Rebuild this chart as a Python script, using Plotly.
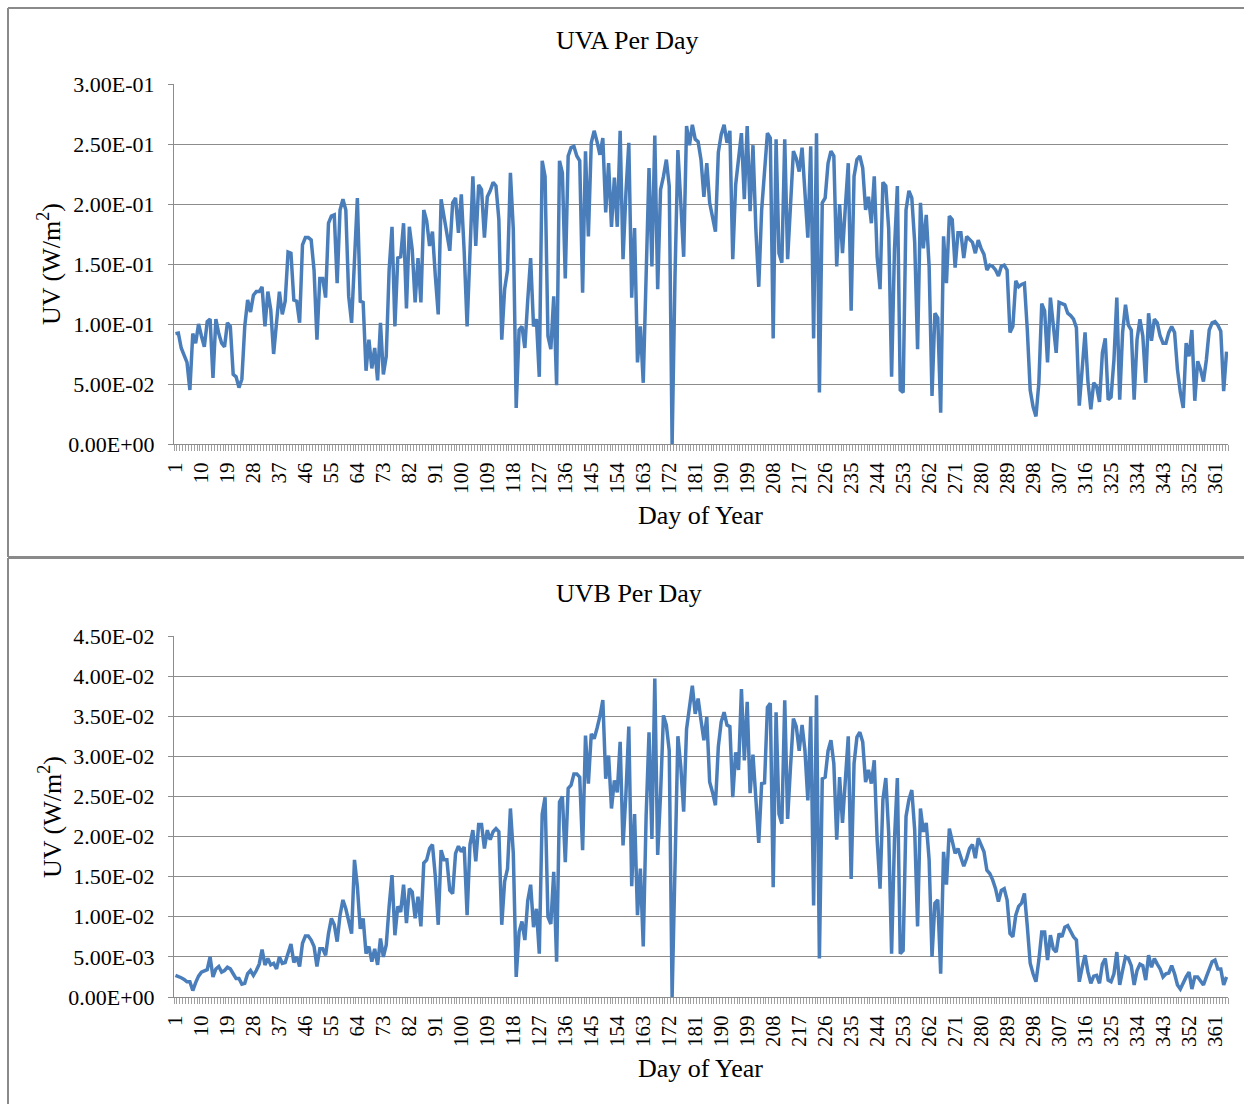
import plotly.graph_objects as go

W, H = 1244, 1104

uva_values = [
    0.092, 0.0925, 0.08, 0.073, 0.068, 0.045, 0.092, 0.084, 0.1, 0.09,
    0.081, 0.102, 0.104, 0.055, 0.104, 0.092, 0.084, 0.081, 0.101, 0.098,
    0.058, 0.056, 0.047, 0.054, 0.098, 0.12, 0.11, 0.124, 0.127, 0.127,
    0.131, 0.098, 0.127, 0.112, 0.075, 0.101, 0.127, 0.108, 0.119, 0.16,
    0.159, 0.12, 0.119, 0.101, 0.166, 0.172, 0.172, 0.17, 0.145, 0.087,
    0.138, 0.138, 0.122, 0.184, 0.19, 0.191, 0.134, 0.195, 0.204, 0.195,
    0.123, 0.101, 0.15, 0.205,
    0.119, 0.118, 0.061, 0.087, 0.063, 0.08, 0.053, 0.101, 0.058, 0.073,
    0.145, 0.181, 0.098, 0.155, 0.156, 0.184, 0.113, 0.181, 0.162, 0.118,
    0.155, 0.118, 0.195, 0.186, 0.165, 0.177, 0.14, 0.108, 0.204, 0.19,
    0.177, 0.161, 0.201, 0.205, 0.176, 0.208, 0.16,
    0.098, 0.16, 0.223, 0.165, 0.216, 0.212, 0.172, 0.206, 0.211, 0.218,
    0.215, 0.187, 0.087, 0.129, 0.145, 0.226, 0.179, 0.03, 0.095, 0.098,
    0.08, 0.12, 0.155, 0.098, 0.104, 0.056, 0.236, 0.223, 0.09, 0.079,
    0.123, 0.049, 0.236, 0.226, 0.138, 0.24, 0.247, 0.248, 0.24, 0.236,
    0.126, 0.244, 0.173, 0.251, 0.261, 0.252, 0.241, 0.255, 0.193, 0.234,
    0.181, 0.222, 0.181, 0.261, 0.154, 0.209, 0.251, 0.122, 0.18, 0.068,
    0.098, 0.051, 0.145, 0.23, 0.148, 0.257, 0.129, 0.212, 0.223, 0.237,
    0.215, 0.0, 0.14, 0.245, 0.201, 0.156, 0.265, 0.249, 0.266, 0.254,
    0.252, 0.237,
    0.206, 0.234, 0.201, 0.19, 0.177, 0.243, 0.258, 0.266, 0.251, 0.261,
    0.154, 0.216, 0.237, 0.259, 0.204, 0.265, 0.194, 0.249, 0.179, 0.131,
    0.195, 0.23, 0.259, 0.255, 0.088, 0.254, 0.159, 0.151, 0.254, 0.154,
    0.195, 0.244, 0.238, 0.227, 0.247, 0.209, 0.172, 0.248, 0.088, 0.259,
    0.043, 0.201, 0.205, 0.234, 0.244, 0.24, 0.148, 0.2, 0.159, 0.198,
    0.234, 0.111, 0.223, 0.237, 0.24, 0.23, 0.195, 0.206, 0.184, 0.223,
    0.156, 0.129, 0.218, 0.215, 0.179, 0.056, 0.162, 0.215, 0.045, 0.043,
    0.195, 0.211, 0.205, 0.168, 0.079, 0.201, 0.163, 0.191, 0.148, 0.04,
    0.109, 0.105, 0.026, 0.173, 0.134, 0.19, 0.187, 0.147, 0.176, 0.176,
    0.155, 0.173, 0.17, 0.168, 0.159, 0.17, 0.163, 0.158, 0.145, 0.149,
    0.148, 0.145, 0.14, 0.148, 0.149, 0.145, 0.093, 0.098, 0.136, 0.131,
    0.133, 0.134, 0.095, 0.045, 0.031, 0.023, 0.051, 0.117, 0.111, 0.068,
    0.122,
    0.098, 0.076, 0.118, 0.117, 0.116, 0.109, 0.107, 0.104, 0.097, 0.032,
    0.062, 0.093, 0.052, 0.029, 0.051, 0.048, 0.035, 0.076, 0.088, 0.037,
    0.039, 0.07, 0.122, 0.037, 0.093, 0.116, 0.099, 0.095, 0.037, 0.087,
    0.104, 0.09, 0.051, 0.109, 0.086, 0.104, 0.101, 0.09, 0.084, 0.084,
    0.093, 0.098, 0.093, 0.062, 0.043, 0.03, 0.084, 0.073, 0.095, 0.036,
    0.069, 0.062, 0.052, 0.07, 0.095, 0.101, 0.102, 0.099, 0.094, 0.044,
    0.077,
]

uvb_values = [
    0.0027, 0.0026, 0.0024, 0.0022, 0.0019, 0.0019, 0.0008, 0.0018, 0.0026, 0.0031,
    0.0033, 0.0034, 0.005, 0.0025, 0.0035, 0.0038, 0.0031, 0.0033, 0.0037, 0.0035,
    0.0029, 0.0023, 0.0023, 0.0016, 0.0017, 0.0029, 0.0033, 0.0027, 0.0033, 0.0041,
    0.0059, 0.004, 0.0048, 0.004, 0.0042, 0.0035, 0.005, 0.0042, 0.0043, 0.0055,
    0.0066, 0.0043, 0.005, 0.0038, 0.0067, 0.0076, 0.0076, 0.0071, 0.0063, 0.0038,
    0.006, 0.006, 0.0052, 0.0079, 0.0098, 0.009, 0.0069, 0.0102, 0.0121, 0.011,
    0.0095, 0.0079,
    0.0171, 0.0138, 0.0085, 0.0098, 0.0054, 0.0063, 0.0044, 0.006, 0.004, 0.0073,
    0.005, 0.0065, 0.0113, 0.0152, 0.0077, 0.0113, 0.0106, 0.014, 0.0092, 0.0135,
    0.0131, 0.0098, 0.0125, 0.0088, 0.0167, 0.0171, 0.0185, 0.019, 0.015, 0.009,
    0.0183, 0.0171, 0.0171, 0.0133, 0.0129, 0.0179, 0.0188, 0.0181, 0.0187, 0.0102,
    0.019, 0.0208, 0.0169, 0.0215, 0.0215, 0.0185, 0.0208, 0.0196, 0.0206, 0.021,
    0.0206, 0.009, 0.0144, 0.016, 0.0235, 0.0179, 0.0025, 0.0081, 0.0094, 0.0071,
    0.012, 0.014, 0.0087, 0.011, 0.0054, 0.0228, 0.0249, 0.01, 0.0091, 0.0156,
    0.0044, 0.0243, 0.025, 0.0168, 0.026, 0.0264, 0.0278, 0.0278, 0.0274, 0.0183,
    0.0326, 0.0266, 0.0328, 0.0322, 0.0335, 0.035, 0.037, 0.0272, 0.0301, 0.0235,
    0.027, 0.0255, 0.0318, 0.0189, 0.0253, 0.0337, 0.0138, 0.0228, 0.0102, 0.016,
    0.0063, 0.0226, 0.033, 0.0197, 0.0397, 0.0177, 0.0253, 0.0351, 0.0339, 0.0307,
    0.0, 0.0179, 0.0325, 0.0287, 0.0231, 0.0334, 0.0361, 0.0388, 0.0353, 0.0372,
    0.0345,
    0.032, 0.0349, 0.0268, 0.0255, 0.0239, 0.0312, 0.0343, 0.0355, 0.0339, 0.0337,
    0.0249, 0.0305, 0.0283, 0.0384, 0.0295, 0.0368, 0.0254, 0.0302, 0.0245, 0.0192,
    0.0266, 0.0267, 0.0361, 0.0366, 0.0137, 0.0355, 0.0228, 0.0216, 0.037, 0.0222,
    0.0287, 0.0347, 0.0337, 0.0307, 0.0339, 0.0307, 0.0245, 0.035, 0.0114, 0.0376,
    0.0048, 0.0272, 0.0274, 0.0307, 0.032, 0.0291, 0.0196, 0.0274, 0.0217, 0.0266,
    0.0325, 0.0147, 0.0291, 0.0324, 0.033, 0.0318, 0.0268, 0.0283, 0.0266, 0.0295,
    0.0196, 0.0135, 0.0246, 0.0273, 0.0204, 0.0054, 0.0196, 0.0273, 0.0054, 0.0058,
    0.0225, 0.0246, 0.0258, 0.0208, 0.0088, 0.0235, 0.0206, 0.0217, 0.0171, 0.005,
    0.0117, 0.0121, 0.0029, 0.0181, 0.014, 0.021, 0.0196, 0.0179, 0.0185, 0.0175,
    0.0163, 0.0173, 0.0185, 0.019, 0.0173, 0.0198, 0.0188, 0.0181, 0.0158, 0.0154,
    0.0146, 0.0135, 0.0119, 0.0133, 0.0135, 0.0121, 0.0079, 0.0075, 0.0102, 0.0113,
    0.0117, 0.0129, 0.0088, 0.0042, 0.0029, 0.0019, 0.0046, 0.0081, 0.0081, 0.0046,
    0.0077,
    0.006, 0.0056, 0.0079, 0.0075, 0.0087, 0.0089, 0.0081, 0.0075, 0.0071, 0.0019,
    0.0037, 0.0052, 0.0031, 0.0017, 0.0026, 0.0027, 0.0017, 0.0041, 0.0048, 0.0021,
    0.0019, 0.0029, 0.0056, 0.0015, 0.0033, 0.005, 0.0048, 0.0039, 0.0015, 0.0033,
    0.0041, 0.0039, 0.0021, 0.0052, 0.0037, 0.0048, 0.0041, 0.0035, 0.0025, 0.0029,
    0.003, 0.0039, 0.0029, 0.0015, 0.001, 0.0018, 0.0025, 0.0031, 0.001, 0.0025,
    0.0025, 0.002, 0.0015, 0.0025, 0.0035, 0.0044, 0.0046, 0.0035, 0.0035, 0.0015,
    0.0025,
]

uva_days = list(range(1, len(uva_values) + 1))
uvb_days = list(range(1, len(uvb_values) + 1))

x_tick_days = list(range(1, 366, 9))
x_tick_text = [str(d) for d in x_tick_days]

uva_ticks = [0, 0.05, 0.10, 0.15, 0.20, 0.25, 0.30]
uva_tick_text = ["0.00E+00", "5.00E-02", "1.00E-01", "1.50E-01",
                 "2.00E-01", "2.50E-01", "3.00E-01"]
uvb_ticks = [0, 0.005, 0.010, 0.015, 0.020, 0.025, 0.030, 0.035, 0.040, 0.045]
uvb_tick_text = ["0.00E+00", "5.00E-03", "1.00E-02", "1.50E-02", "2.00E-02",
                 "2.50E-02", "3.00E-02", "3.50E-02", "4.00E-02", "4.50E-02"]

titles = ["UVA Per Day", "UVB Per Day"]
x_title = "Day of Year"
y_title = "UV (W/m<sup>2</sup>)"

FONT = "Liberation Serif, Times New Roman, serif"
LINE_COLOR = "#4a7ebb"
GRID = "#8c8c8c"


def px(x):
    return x / W


def py(y):
    return 1 - y / H


fig = go.Figure()
fig.add_trace(go.Scatter(x=uva_days, y=uva_values, mode="lines",
                         line=dict(color=LINE_COLOR, width=3.5),
                         xaxis="x", yaxis="y", showlegend=False))
fig.add_trace(go.Scatter(x=uvb_days, y=uvb_values, mode="lines",
                         line=dict(color=LINE_COLOR, width=3.5),
                         xaxis="x2", yaxis="y2", showlegend=False))

x_left, x_right = 174, 1228
panels = [(84, 444), (636, 997)]

xcommon = dict(
    range=[0.5, 365.5], tickvals=x_tick_days, ticktext=x_tick_text,
    tickangle=-90, showgrid=False, zeroline=False, showline=True,
    linecolor=GRID, linewidth=1, ticks="", ticklabelstandoff=9,
    tickfont=dict(family=FONT, size=21, color="black"), automargin=False,
    minor=dict(ticks="outside", tick0=0.5, dtick=1, ticklen=6,
               tickcolor="#a0a0a0", tickwidth=1, showgrid=False),
    domain=[px(x_left), px(x_right)],
)
ycommon = dict(
    showgrid=True, gridcolor=GRID, gridwidth=1, zeroline=False,
    showline=True, linecolor=GRID, linewidth=1, ticks="outside",
    ticklen=5, tickcolor=GRID, ticklabelstandoff=9, automargin=False,
    tickfont=dict(family=FONT, size=22, color="black"),
)

fig.update_layout(
    width=W, height=H,
    margin=dict(l=0, r=0, t=0, b=0, pad=0, autoexpand=False),
    paper_bgcolor="white", plot_bgcolor="white", showlegend=False,
    xaxis=dict(**xcommon, anchor="y"),
    xaxis2=dict(**xcommon, anchor="y2"),
    yaxis=dict(**ycommon, anchor="x", range=[0, 0.3], tickvals=uva_ticks,
               ticktext=uva_tick_text,
               domain=[py(panels[0][1]), py(panels[0][0])]),
    yaxis2=dict(**ycommon, anchor="x2", range=[0, 0.045], tickvals=uvb_ticks,
                ticktext=uvb_tick_text,
                domain=[py(panels[1][1]), py(panels[1][0])]),
)

annotations = []
title_pos = [(628, 40), (629, 593)]
xtitle_pos = [(700, 515), (700, 1068)]
ytitle_pos = [(50, 264), (50, 817)]
for i in range(2):
    annotations.append(dict(text=titles[i], x=px(title_pos[i][0]), y=py(title_pos[i][1]),
                            xref="paper", yref="paper", showarrow=False,
                            xanchor="center", yanchor="middle",
                            font=dict(family=FONT, size=26, color="black")))
    annotations.append(dict(text=x_title, x=px(xtitle_pos[i][0]), y=py(xtitle_pos[i][1]),
                            xref="paper", yref="paper", showarrow=False,
                            xanchor="center", yanchor="middle",
                            font=dict(family=FONT, size=26, color="black")))
    annotations.append(dict(text=y_title, x=px(ytitle_pos[i][0]), y=py(ytitle_pos[i][1]),
                            xref="paper", yref="paper", showarrow=False,
                            xanchor="center", yanchor="middle", textangle=-90,
                            font=dict(family=FONT, size=26, color="black")))
fig.update_layout(annotations=annotations)

shapes = [
    dict(type="line", xref="paper", yref="paper", x0=px(8), x1=1, y0=py(8), y1=py(8),
         line=dict(color="#8a8a8a", width=2)),
    dict(type="line", xref="paper", yref="paper", x0=px(8), x1=px(8), y0=py(8), y1=py(557),
         line=dict(color="#8a8a8a", width=2)),
    dict(type="line", xref="paper", yref="paper", x0=px(8), x1=1, y0=py(557.5), y1=py(557.5),
         line=dict(color="#8a8a8a", width=3)),
    dict(type="line", xref="paper", yref="paper", x0=px(8), x1=px(8), y0=py(558), y1=0,
         line=dict(color="#8a8a8a", width=2)),
]
fig.update_layout(shapes=shapes)

post_js = ("document.body.style.margin='0';document.body.style.padding='0';"
           "document.documentElement.style.overflow='hidden';")
fig.write_html("out.html", post_script=post_js)
